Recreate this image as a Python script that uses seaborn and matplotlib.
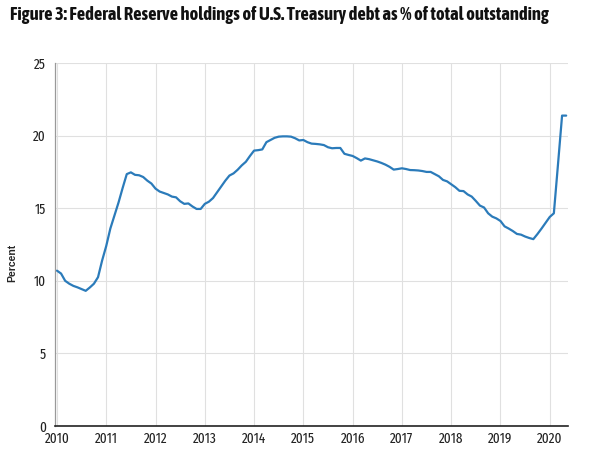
import numpy as np
import pandas as pd
import matplotlib
matplotlib.use('Agg')
import matplotlib.pyplot as plt
from matplotlib import font_manager
import seaborn as sns

# Monthly share of Treasury debt held by the Fed (%), Jan 2010 - May 2020
vals_2010 = [10.7, 10.5, 10.0, 9.8, 9.65, 9.55, 9.43, 9.31, 9.54, 9.8, 10.25, 11.4]
vals_2011 = [12.4, 13.6, 14.5, 15.4, 16.4, 17.35, 17.47, 17.3, 17.27, 17.15, 16.9, 16.7]
vals_2012 = [16.35, 16.15, 16.05, 15.95, 15.8, 15.75, 15.48, 15.3, 15.33, 15.12, 14.95, 14.95]
vals_2013 = [15.3, 15.45, 15.7, 16.1, 16.5, 16.9, 17.25, 17.4, 17.65, 17.95, 18.2, 18.6]
vals_2014 = [18.97, 19.0, 19.05, 19.55, 19.7, 19.85, 19.93, 19.95, 19.95, 19.93, 19.82, 19.67]
vals_2015 = [19.7, 19.55, 19.45, 19.43, 19.4, 19.35, 19.2, 19.13, 19.15, 19.15, 18.75, 18.67]
vals_2016 = [18.6, 18.45, 18.28, 18.43, 18.38, 18.3, 18.22, 18.12, 18.0, 17.85, 17.66, 17.7]
vals_2017 = [17.75, 17.7, 17.63, 17.62, 17.6, 17.56, 17.5, 17.5, 17.35, 17.2, 16.95, 16.85]
vals_2018 = [16.65, 16.45, 16.2, 16.18, 15.95, 15.8, 15.5, 15.18, 15.05, 14.65, 14.42, 14.3]
vals_2019 = [14.12, 13.75, 13.6, 13.43, 13.23, 13.18, 13.05, 12.95, 12.87, 13.22, 13.6, 14.0]
vals_2020 = [14.4, 14.65, 18.0, 21.38, 21.38]

values = (vals_2010 + vals_2011 + vals_2012 + vals_2013 + vals_2014 + vals_2015
          + vals_2016 + vals_2017 + vals_2018 + vals_2019 + vals_2020)
dates = pd.date_range('2010-01-01', periods=len(values), freq='MS')
years = list(range(2010, 2021))
yticks = [0, 5, 10, 15, 20, 25]

df = pd.DataFrame({'date': dates, 'pct': values})
df['t'] = df['date'].dt.year + (df['date'].dt.month - 1) / 12

title = 'Figure 3: Federal Reserve holdings of U.S. Treasury debt as % of total outstanding'

sns.set_style('white')
plt.rcParams['font.family'] = ['Liberation Sans', 'DejaVu Sans']

fig = plt.figure(figsize=(6.11, 4.67), dpi=100)
renderer = fig.canvas.get_renderer()


def text_width(fname, text, size=10):
    t = fig.text(0, 0, text, fontproperties=font_manager.FontProperties(fname=fname, size=size))
    w = t.get_window_extent(renderer).width
    t.remove()
    return w


# narrow / condensed proportional sans faces among the installed fonts
def narrow_faces(bold):
    out = []
    for f in font_manager.fontManager.ttflist:
        tag = (f.name + ' ' + str(f.stretch) + ' ' + f.fname).lower()
        if not any(k in tag for k in ['condensed', 'narrow']):
            continue
        if any(k in tag for k in ['mono', 'italic', 'oblique', 'serif']):
            continue
        if f.style != 'normal':
            continue
        w = f.weight if isinstance(f.weight, int) else 400
        ok = (600 <= w <= 800) if bold else (350 <= w <= 500)
        if not ok:
            continue
        try:
            if text_width(f.fname, 'iiiiiiii') > 0.8 * text_width(f.fname, 'mmmmmmmm'):
                continue  # monospaced
        except Exception:
            continue
        out.append(f.fname)
    return out


def best_face(faces, text, target_px, want_size):
    pick, diff = None, 1e9
    for fn in faces:
        s = 10 * target_px / text_width(fn, text)
        if abs(s - want_size) < diff:
            diff = abs(s - want_size)
            pick = font_manager.FontProperties(fname=fn, size=s)
    return pick


title_fp = best_face(narrow_faces(True), title, 535, 13.5)
tick_fp = best_face(narrow_faces(False), '2010', 25, 10.5)

ax = fig.add_axes([0.0908, 0.0878, 0.8388, 0.7772])

sns.lineplot(data=df, x='t', y='pct', ax=ax, color='#2b7bba', linewidth=1.6)

ax.set_xlim(2009.97, 2020.37)
ax.set_ylim(0, 25)
ax.set_xticks(years)
ax.set_xticklabels([str(y) for y in years])
ax.set_yticks(yticks)
ax.grid(True, color='#e0e0e0', linewidth=0.8)
ax.set_axisbelow(True)
ax.tick_params(axis='both', length=0, labelsize=10, colors='#222222')
ax.tick_params(axis='y', pad=7)
ax.tick_params(axis='x', pad=4)
if tick_fp is not None:
    for lab in ax.get_xticklabels() + ax.get_yticklabels():
        lab.set_fontproperties(tick_fp)

for side in ['top', 'right']:
    ax.spines[side].set_visible(False)
ax.spines['left'].set_color('#999999')
ax.spines['left'].set_linewidth(0.9)
ax.spines['bottom'].set_color('#222222')
ax.spines['bottom'].set_linewidth(1.2)

ax.set_xlabel('')
ax.set_ylabel('Percent', fontsize=7.5, fontweight='bold',
              family=['Liberation Sans', 'DejaVu Sans'])
ax.yaxis.set_label_coords(-0.075, 0.45)

if title_fp is not None:
    fig.text(0.016, 0.968, title, ha='left', va='center', color='#111111',
             fontproperties=title_fp)
else:
    fig.text(0.016, 0.968, title, fontsize=9.6, fontweight='bold',
             ha='left', va='center', color='#111111')

fig.savefig('out.png', dpi=100)
